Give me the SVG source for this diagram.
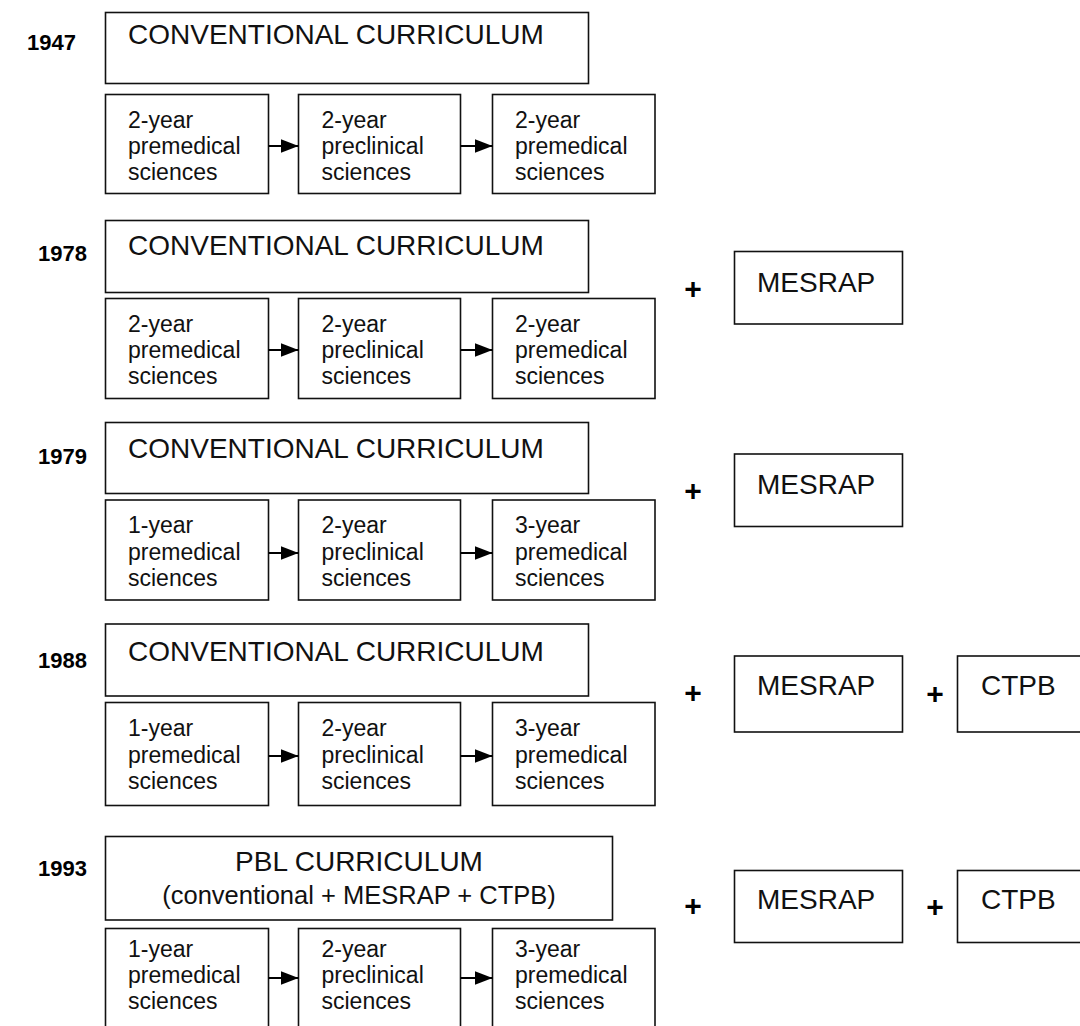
<svg xmlns="http://www.w3.org/2000/svg" width="1080" height="1026" viewBox="0 0 1080 1026">
<style>
  .box { fill: #ffffff; stroke: #111111; stroke-width: 1.6; }
  .big { font-family: "Liberation Sans", Arial, sans-serif; font-size: 28px; fill: #111111; }
  .sub { font-family: "Liberation Sans", Arial, sans-serif; font-size: 23px; fill: #111111; }
  .mid { font-family: "Liberation Sans", Arial, sans-serif; font-size: 25.5px; fill: #111111; }
  .year { font-family: "Liberation Sans", Arial, sans-serif; font-size: 22px; font-weight: bold; fill: #000000; text-anchor: end; }
  .plus { font-family: "Liberation Sans", Arial, sans-serif; font-size: 30px; font-weight: bold; fill: #000000; text-anchor: middle; }
  .conn { stroke: #000000; stroke-width: 2; fill: none; }
</style>
<defs>
  <marker id="ah" markerUnits="userSpaceOnUse" markerWidth="18" markerHeight="14" refX="18" refY="7" orient="auto">
    <path d="M0,0 L18,7 L0,14 Z" fill="#000000"/>
  </marker>
</defs>
<rect x="0" y="0" width="1080" height="1026" fill="#ffffff"/>

<!-- Row 1947 -->
<g id="row1947">
  <text class="year" x="76" y="50">1947</text>
  <g id="conv1947"><rect class="box" x="105.5" y="12.5" width="483" height="71"/><text class="big" x="128" y="44">CONVENTIONAL CURRICULUM</text></g>
  <g id="a1947"><rect class="box" x="105.5" y="94.5" width="163" height="99"/><text class="sub"><tspan x="128" y="128">2-year</tspan><tspan x="128" y="154">premedical</tspan><tspan x="128" y="180">sciences</tspan></text></g>
  <g id="b1947"><rect class="box" x="298.5" y="94.5" width="162" height="99"/><text class="sub"><tspan x="321.5" y="128">2-year</tspan><tspan x="321.5" y="154">preclinical</tspan><tspan x="321.5" y="180">sciences</tspan></text></g>
  <g id="c1947"><rect class="box" x="492.5" y="94.5" width="162.5" height="99"/><text class="sub"><tspan x="515" y="128">2-year</tspan><tspan x="515" y="154">premedical</tspan><tspan x="515" y="180">sciences</tspan></text></g>
</g>

<!-- Row 1978 -->
<g id="row1978">
  <text class="year" x="87" y="261">1978</text>
  <g id="conv1978"><rect class="box" x="105.5" y="220.5" width="483" height="72"/><text class="big" x="128" y="255">CONVENTIONAL CURRICULUM</text></g>
  <g id="a1978"><rect class="box" x="105.5" y="298.5" width="163" height="100"/><text class="sub"><tspan x="128" y="332">2-year</tspan><tspan x="128" y="358">premedical</tspan><tspan x="128" y="384">sciences</tspan></text></g>
  <g id="b1978"><rect class="box" x="298.5" y="298.5" width="162" height="100"/><text class="sub"><tspan x="321.5" y="332">2-year</tspan><tspan x="321.5" y="358">preclinical</tspan><tspan x="321.5" y="384">sciences</tspan></text></g>
  <g id="c1978"><rect class="box" x="492.5" y="298.5" width="162.5" height="100"/><text class="sub"><tspan x="515" y="332">2-year</tspan><tspan x="515" y="358">premedical</tspan><tspan x="515" y="384">sciences</tspan></text></g>
  <text class="plus" x="693" y="299">+</text>
  <g id="mes1978"><rect class="box" x="734.5" y="251.5" width="168" height="72.5"/><text class="big" x="757" y="291.5">MESRAP</text></g>
</g>

<!-- Row 1979 -->
<g id="row1979">
  <text class="year" x="87" y="464">1979</text>
  <g id="conv1979"><rect class="box" x="105.5" y="422.5" width="483" height="71"/><text class="big" x="128" y="458">CONVENTIONAL CURRICULUM</text></g>
  <g id="a1979"><rect class="box" x="105.5" y="500" width="163" height="100"/><text class="sub"><tspan x="128" y="533">1-year</tspan><tspan x="128" y="560">premedical</tspan><tspan x="128" y="586">sciences</tspan></text></g>
  <g id="b1979"><rect class="box" x="298.5" y="500" width="162" height="100"/><text class="sub"><tspan x="321.5" y="533">2-year</tspan><tspan x="321.5" y="560">preclinical</tspan><tspan x="321.5" y="586">sciences</tspan></text></g>
  <g id="c1979"><rect class="box" x="492.5" y="500" width="162.5" height="100"/><text class="sub"><tspan x="515" y="533">3-year</tspan><tspan x="515" y="560">premedical</tspan><tspan x="515" y="586">sciences</tspan></text></g>
  <text class="plus" x="693" y="501">+</text>
  <g id="mes1979"><rect class="box" x="734.5" y="454" width="168" height="72.5"/><text class="big" x="757" y="493.5">MESRAP</text></g>
</g>

<!-- Row 1988 -->
<g id="row1988">
  <text class="year" x="87" y="668">1988</text>
  <g id="conv1988"><rect class="box" x="105.5" y="624" width="483" height="72"/><text class="big" x="128" y="661">CONVENTIONAL CURRICULUM</text></g>
  <g id="a1988"><rect class="box" x="105.5" y="702.5" width="163" height="103"/><text class="sub"><tspan x="128" y="736">1-year</tspan><tspan x="128" y="763">premedical</tspan><tspan x="128" y="789">sciences</tspan></text></g>
  <g id="b1988"><rect class="box" x="298.5" y="702.5" width="162" height="103"/><text class="sub"><tspan x="321.5" y="736">2-year</tspan><tspan x="321.5" y="763">preclinical</tspan><tspan x="321.5" y="789">sciences</tspan></text></g>
  <g id="c1988"><rect class="box" x="492.5" y="702.5" width="162.5" height="103"/><text class="sub"><tspan x="515" y="736">3-year</tspan><tspan x="515" y="763">premedical</tspan><tspan x="515" y="789">sciences</tspan></text></g>
  <text class="plus" x="693" y="703">+</text>
  <g id="mes1988"><rect class="box" x="734.5" y="656" width="168" height="76"/><text class="big" x="757" y="695">MESRAP</text></g>
  <text class="plus" x="935" y="704">+</text>
  <g id="ctpb1988"><rect class="box" x="957.5" y="656" width="140" height="76"/><text class="big" x="981" y="695">CTPB</text></g>
</g>

<!-- Row 1993 -->
<g id="row1993">
  <text class="year" x="87" y="876">1993</text>
  <g id="pbl1993"><rect class="box" x="105.5" y="836.5" width="507" height="83.5"/><text class="big" x="359" y="871" text-anchor="middle">PBL CURRICULUM</text><text class="mid" x="359" y="904" text-anchor="middle">(conventional + MESRAP + CTPB)</text></g>
  <g id="a1993"><rect class="box" x="105.5" y="928.5" width="163" height="120"/><text class="sub"><tspan x="128" y="957">1-year</tspan><tspan x="128" y="983">premedical</tspan><tspan x="128" y="1009">sciences</tspan></text></g>
  <g id="b1993"><rect class="box" x="298.5" y="928.5" width="162" height="120"/><text class="sub"><tspan x="321.5" y="957">2-year</tspan><tspan x="321.5" y="983">preclinical</tspan><tspan x="321.5" y="1009">sciences</tspan></text></g>
  <g id="c1993"><rect class="box" x="492.5" y="928.5" width="162.5" height="120"/><text class="sub"><tspan x="515" y="957">3-year</tspan><tspan x="515" y="983">premedical</tspan><tspan x="515" y="1009">sciences</tspan></text></g>
  <text class="plus" x="693" y="916">+</text>
  <g id="mes1993"><rect class="box" x="734.5" y="870.5" width="168" height="72"/><text class="big" x="757" y="909">MESRAP</text></g>
  <text class="plus" x="935" y="917">+</text>
  <g id="ctpb1993"><rect class="box" x="957.5" y="870.5" width="140" height="72"/><text class="big" x="981" y="909">CTPB</text></g>
</g>

<!-- Connectors -->
<g id="connectors">
  <line class="conn" x1="268.5" y1="146" x2="298.5" y2="146" marker-end="url(#ah)"/>
  <line class="conn" x1="460.5" y1="146" x2="492.5" y2="146" marker-end="url(#ah)"/>
  <line class="conn" x1="268.5" y1="350" x2="298.5" y2="350" marker-end="url(#ah)"/>
  <line class="conn" x1="460.5" y1="350" x2="492.5" y2="350" marker-end="url(#ah)"/>
  <line class="conn" x1="268.5" y1="553" x2="298.5" y2="553" marker-end="url(#ah)"/>
  <line class="conn" x1="460.5" y1="553" x2="492.5" y2="553" marker-end="url(#ah)"/>
  <line class="conn" x1="268.5" y1="756" x2="298.5" y2="756" marker-end="url(#ah)"/>
  <line class="conn" x1="460.5" y1="756" x2="492.5" y2="756" marker-end="url(#ah)"/>
  <line class="conn" x1="268.5" y1="978" x2="298.5" y2="978" marker-end="url(#ah)"/>
  <line class="conn" x1="460.5" y1="978" x2="492.5" y2="978" marker-end="url(#ah)"/>
</g>
</svg>
